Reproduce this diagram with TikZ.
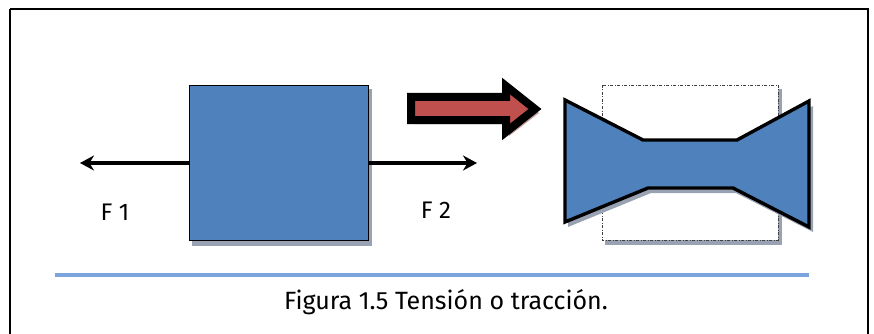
\documentclass[tikz,border=0pt]{standalone}
\usepackage{fontspec}
\setmainfont{Fira Sans}
\usetikzlibrary{arrows.meta}
\definecolor{boxblue}{HTML}{4F81BD}
\definecolor{shadowgray}{HTML}{98A2B3}
\definecolor{arrowred}{HTML}{C0504D}
\definecolor{arrowshadow}{HTML}{C29A9A}
\definecolor{rulelblue}{HTML}{7BA5DC}
\tikzset{
  force/.style={line width=4pt,-{Stealth[length=14pt,width=15pt]}},
  label/.style={font=\fontsize{24}{28}\selectfont,inner sep=0pt},
  shade/.style={fill=shadowgray,draw=none}
}
\begin{document}
\begin{tikzpicture}[x=1pt,y=-1pt]
\useasboundingbox (0,0) rectangle (874,334);
% outer frame
\draw[line width=2pt] (10,9) -- (868,9) -- (868,340) (10,340) -- (10,9);
% specimen before loading
\fill[shade] (192,89) rectangle (372,246);
\node[draw=black,line width=1pt,fill=boxblue,minimum width=179pt,minimum height=155pt,inner sep=0pt,anchor=north west] (block) at (189,85) {};
\coordinate (tipL) at (80,163);
\coordinate (tipR) at (477,163);
\draw[force] (block.west |- tipL) -- (tipL);
\draw[force] (block.east |- tipR) -- (tipR);
\node[label] (f1) at (115,212) {F 1};
\node[label] (f2) at (436,210) {F 2};
% transition arrow
\fill[arrowshadow] (414,101) -- (509,101) -- (509,90) -- (539,113) -- (509,136) -- (509,124) -- (414,124) -- cycle;
\draw[line width=8pt,fill=arrowred,line join=miter,miter limit=10] (411,97) -- (506,97) -- (506,86) -- (535,109) -- (506,132) -- (506,120) -- (411,120) -- cycle;
% original outline (dash-dot) with shadow
\fill[shade] (605,89) rectangle (782,245);
\draw[fill=white,draw=black!75,line width=0.9pt,dash pattern=on 3pt off 1.5pt on 1pt off 1.5pt] (602,85) rectangle (778,240);
% necked specimen
\fill[shade] (568,105) -- (646,145) -- (740,145) -- (813,106) -- (813,232) -- (736,193) -- (651,193) -- (568,227) -- cycle;
\draw[line width=3.4pt,fill=boxblue,line join=miter] (565,100) -- (643,140) -- (737,140) -- (809,101) -- (809,227) -- (733,188) -- (648,188) -- (565,222) -- cycle;
% caption rule and text
\draw[rulelblue,line width=4pt] (55,275) -- (809,275);
\node[label,font=\fontsize{25}{30}\selectfont] (cap) at (446,302) {Figura 1.5 Tensión o tracción.};
\end{tikzpicture}
\end{document}
